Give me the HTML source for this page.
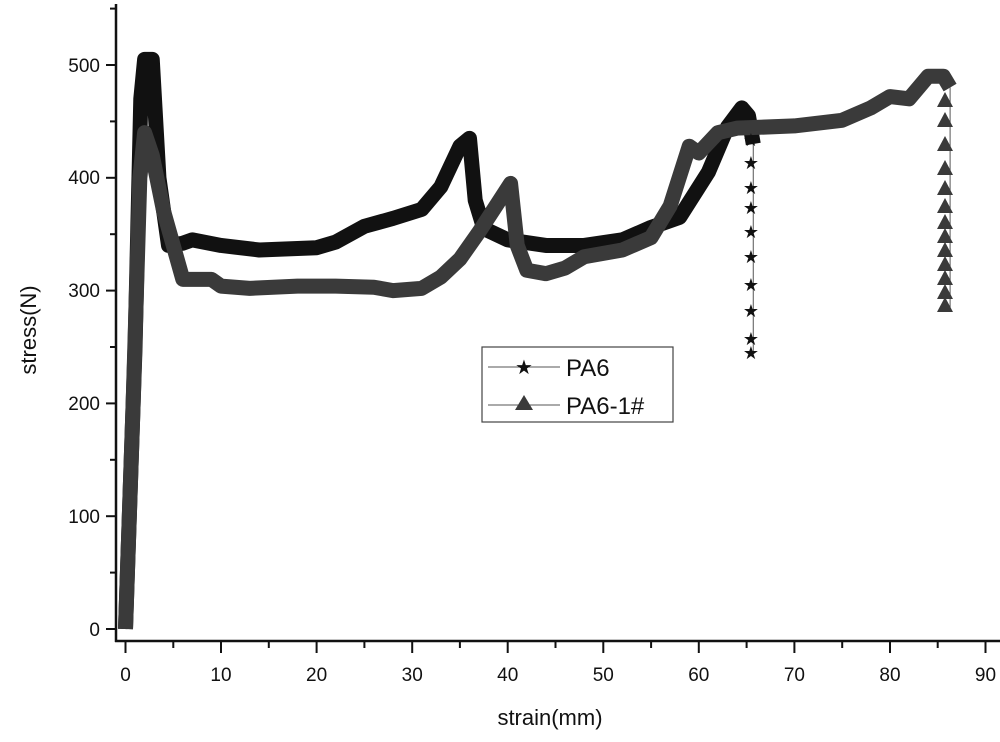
<!DOCTYPE html><html><head><style>body{margin:0;background:#fff}svg{display:block}text{font-family:"Liberation Sans",Arial,sans-serif;fill:#111}</style></head><body>
<svg width="1000" height="742" viewBox="0 0 1000 742">
<g stroke="#111" stroke-width="2.5">
<line x1="116" y1="4" x2="116" y2="642"/>
<line x1="115" y1="641" x2="1000" y2="641"/>
</g>
<g stroke="#111" stroke-width="2">
<line x1="106" y1="629" x2="116" y2="629"/><line x1="110" y1="572.6" x2="116" y2="572.6"/>
<line x1="106" y1="516.2" x2="116" y2="516.2"/><line x1="110" y1="459.8" x2="116" y2="459.8"/>
<line x1="106" y1="403.4" x2="116" y2="403.4"/><line x1="110" y1="347" x2="116" y2="347"/>
<line x1="106" y1="290.6" x2="116" y2="290.6"/><line x1="110" y1="234.2" x2="116" y2="234.2"/>
<line x1="106" y1="177.8" x2="116" y2="177.8"/><line x1="110" y1="121.4" x2="116" y2="121.4"/>
<line x1="106" y1="65" x2="116" y2="65"/><line x1="110" y1="8.6" x2="116" y2="8.6"/>
<line x1="125.5" y1="641" x2="125.5" y2="653"/><line x1="173.3" y1="641" x2="173.3" y2="648"/>
<line x1="221" y1="641" x2="221" y2="653"/><line x1="268.8" y1="641" x2="268.8" y2="648"/>
<line x1="316.6" y1="641" x2="316.6" y2="653"/><line x1="364.4" y1="641" x2="364.4" y2="648"/>
<line x1="412.2" y1="641" x2="412.2" y2="653"/><line x1="459.9" y1="641" x2="459.9" y2="648"/>
<line x1="507.7" y1="641" x2="507.7" y2="653"/><line x1="555.5" y1="641" x2="555.5" y2="648"/>
<line x1="603.3" y1="641" x2="603.3" y2="653"/><line x1="651.1" y1="641" x2="651.1" y2="648"/>
<line x1="698.8" y1="641" x2="698.8" y2="653"/><line x1="746.6" y1="641" x2="746.6" y2="648"/>
<line x1="794.4" y1="641" x2="794.4" y2="653"/><line x1="842.2" y1="641" x2="842.2" y2="648"/>
<line x1="890" y1="641" x2="890" y2="653"/><line x1="937.7" y1="641" x2="937.7" y2="648"/>
<line x1="985.5" y1="641" x2="985.5" y2="653"/>
</g>
<g font-size="19" text-anchor="end">
<text x="100" y="636">0</text><text x="100" y="523">100</text><text x="100" y="410">200</text>
<text x="100" y="297">300</text><text x="100" y="184">400</text><text x="100" y="72">500</text>
</g>
<g font-size="19" text-anchor="middle">
<text x="125.5" y="681">0</text><text x="221" y="681">10</text><text x="316.6" y="681">20</text>
<text x="412.2" y="681">30</text><text x="507.7" y="681">40</text><text x="603.3" y="681">50</text>
<text x="698.8" y="681">60</text><text x="794.4" y="681">70</text><text x="890" y="681">80</text>
<text x="985.5" y="681">90</text>
</g>
<text x="550" y="725" font-size="22" text-anchor="middle">strain(mm)</text>
<text transform="translate(36,330) rotate(-90)" font-size="22" text-anchor="middle">stress(N)</text>

<g transform="translate(125.5,629) scale(9.555,-1.128)" fill="none" stroke-linejoin="round">
<polyline vector-effect="non-scaling-stroke" stroke="#111" stroke-width="15" points="0,0 1,250 1.6,470 2,505 2.8,505 3.5,400 4.5,340 6,342 7,345 10,340 14,336 20,338 22,343 25,357 28,364 31,372 33,392 35,428 36,435 36.6,380 37.5,355 40,345 44,340 48,340 52,345 55,356 58,365 61,405 63,445 64.5,462 65.2,455 65.7,430"/>
<polyline vector-effect="non-scaling-stroke" stroke="#3a3a3a" stroke-width="15" points="0,0 0.8,200 1.5,400 2,440 2.8,420 4,370 5,340 6,310 7,310 9,310 10,304 13,302 18,304 22,304 26,303 28,300 31,302 33,312 35,328 37,352 39,378 40.3,395 41,340 42,318 44,315 46,320 48,330 52,336 55,347 57,375 59,428 60,422 62,440 64,444 70,446 75,451 78,462 80,472 82,470 84,490 85.6,490 86.3,480"/>
<line vector-effect="non-scaling-stroke" stroke="#555" stroke-width="1" x1="65.7" y1="430" x2="65.7" y2="245"/>
<line vector-effect="non-scaling-stroke" stroke="#555" stroke-width="1" x1="86.3" y1="480" x2="86.3" y2="285"/>
</g>
<g font-size="18" text-anchor="middle">
<text x="751" y="146">★</text><text x="751" y="169">★</text><text x="751" y="194">★</text>
<text x="751" y="214">★</text><text x="751" y="238">★</text><text x="751" y="263">★</text>
<text x="751" y="291">★</text><text x="751" y="317">★</text><text x="751" y="345">★</text>
<text x="751" y="359">★</text>
</g>
<g fill="#3a3a3a">
<polygon points="945,297 953,312 937,312"/><polygon points="945,284 953,299 937,299"/>
<polygon points="945,270 953,285 937,285"/><polygon points="945,256 953,271 937,271"/>
<polygon points="945,242 953,257 937,257"/><polygon points="945,228 953,243 937,243"/>
<polygon points="945,214 953,229 937,229"/><polygon points="945,198 953,213 937,213"/>
<polygon points="945,180 953,195 937,195"/><polygon points="945,160 953,175 937,175"/>
<polygon points="945,136 953,151 937,151"/><polygon points="945,112 953,127 937,127"/>
<polygon points="945,92 953,107 937,107"/>
</g>
<rect x="482" y="347" width="191" height="75" fill="#fff" stroke="#444" stroke-width="1.2"/>
<line x1="488" y1="367" x2="560" y2="367" stroke="#555" stroke-width="1"/>
<text x="524" y="374" font-size="20" text-anchor="middle">★</text>
<line x1="488" y1="405" x2="560" y2="405" stroke="#555" stroke-width="1"/>
<polygon points="524,395 533,410 515,410" fill="#3a3a3a"/>
<text x="566" y="376" font-size="24">PA6</text>
<text x="566" y="414" font-size="24">PA6-1#</text>
</svg></body></html>
